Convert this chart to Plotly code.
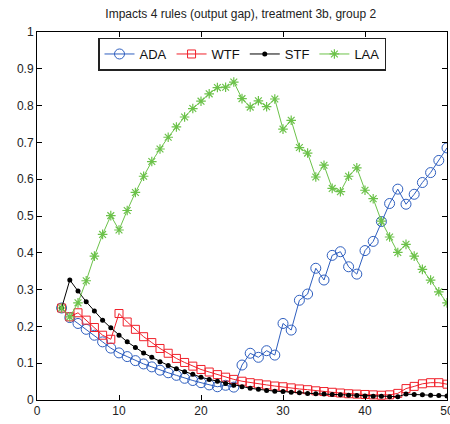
import plotly.graph_objects as go

x = list(range(3, 51))

ada = [0.250, 0.224, 0.208, 0.192, 0.176, 0.158, 0.141, 0.128, 0.118, 0.107,
       0.098, 0.090, 0.081, 0.074, 0.067, 0.059, 0.053, 0.047, 0.041, 0.036,
       0.040, 0.035, 0.095, 0.127, 0.116, 0.134, 0.122, 0.208, 0.190, 0.271,
       0.288, 0.358, 0.326, 0.393, 0.403, 0.362, 0.342, 0.406, 0.431, 0.485,
       0.534, 0.573, 0.532, 0.559, 0.591, 0.618, 0.651, 0.685]

wtf = [0.250, 0.226, 0.237, 0.217, 0.197, 0.176, 0.165, 0.235, 0.212, 0.192,
       0.172, 0.156, 0.140, 0.127, 0.113, 0.102, 0.092, 0.083, 0.076, 0.069,
       0.062, 0.056, 0.051, 0.047, 0.044, 0.041, 0.038, 0.036, 0.033, 0.030,
       0.028, 0.025, 0.023, 0.021, 0.019, 0.017, 0.016, 0.015, 0.014, 0.013,
       0.014, 0.018, 0.031, 0.037, 0.044, 0.047, 0.047, 0.043]

stf = [0.250, 0.326, 0.296, 0.267, 0.242, 0.217, 0.196, 0.176, 0.158, 0.143,
       0.128, 0.116, 0.104, 0.094, 0.085, 0.077, 0.070, 0.062, 0.056, 0.051,
       0.045, 0.040, 0.036, 0.032, 0.029, 0.026, 0.024, 0.023, 0.021, 0.020,
       0.018, 0.017, 0.016, 0.015, 0.014, 0.013, 0.012, 0.011, 0.010, 0.010,
       0.009, 0.009, 0.016, 0.015, 0.014, 0.013, 0.012, 0.011]

laa = [0.250, 0.226, 0.264, 0.324, 0.391, 0.450, 0.501, 0.462, 0.515, 0.564,
       0.608, 0.648, 0.682, 0.714, 0.742, 0.769, 0.792, 0.812, 0.832, 0.849,
       0.850, 0.864, 0.819, 0.796, 0.813, 0.797, 0.818, 0.736, 0.760, 0.686,
       0.671, 0.606, 0.638, 0.575, 0.566, 0.608, 0.631, 0.570, 0.547, 0.486,
       0.443, 0.401, 0.423, 0.391, 0.355, 0.326, 0.294, 0.264]

x_ticks = [0, 10, 20, 30, 40, 50]
y_ticks = [0, 0.1, 0.2, 0.3, 0.4, 0.5, 0.6, 0.7, 0.8, 0.9, 1]
y_tick_labels = ["0", "0.1", "0.2", "0.3", "0.4", "0.5", "0.6", "0.7", "0.8", "0.9", "1"]

blue = "#2F5FBF"
red = "#F0202A"
green = "#6CC24A"

fig = go.Figure()
fig.add_trace(go.Scatter(x=x, y=ada, name="ADA", mode="lines+markers",
                         line=dict(color=blue, width=1),
                         marker=dict(symbol="circle-open", size=10, color=blue, line=dict(width=1))))
fig.add_trace(go.Scatter(x=x, y=wtf, name="WTF", mode="lines+markers",
                         line=dict(color=red, width=1),
                         marker=dict(symbol="square-open", size=8, color=red, line=dict(width=1))))
fig.add_trace(go.Scatter(x=x, y=stf, name="STF", mode="lines+markers",
                         line=dict(color="black", width=1),
                         marker=dict(symbol="circle", size=5, color="black")))
fig.add_trace(go.Scatter(x=x, y=laa, name="LAA", mode="lines+markers",
                         line=dict(color=green, width=1),
                         marker=dict(symbol="asterisk-open", size=8, color=green, line=dict(width=1.2, color=green))))

axis_common = dict(showgrid=False, zeroline=False, showline=True, linecolor="black",
                   linewidth=1, mirror="ticks", ticks="inside", ticklen=5,
                   tickcolor="black", ticklabeloverflow="allow", automargin=False,
                   tickfont=dict(family="Liberation Sans, Arial", size=12, color="#222"))

fig.update_layout(
    width=450, height=424,
    margin=dict(l=37, r=3, t=32, b=24),
    paper_bgcolor="white", plot_bgcolor="white",
    title=dict(text="Impacts 4 rules (output gap), treatment 3b, group 2",
               x=0.535, xanchor="center", y=0.968, yanchor="middle",
               font=dict(family="Liberation Sans, Arial", size=12, color="#222")),
    xaxis=dict(range=[0, 50], tickvals=x_ticks, **axis_common),
    yaxis=dict(range=[0, 1], tickvals=y_ticks, ticktext=y_tick_labels, **axis_common),
    legend=dict(orientation="h", x=0.5, xanchor="center", y=0.985, yanchor="top",
                bordercolor="#222", borderwidth=1.5, bgcolor="white",
                font=dict(family="Liberation Sans, Arial", size=13, color="#111"),
                itemwidth=30, tracegroupgap=0),
    showlegend=True,
)

fig.write_html("out.html", config={"displayModeBar": False},
               post_script="document.body.style.margin='0';")
